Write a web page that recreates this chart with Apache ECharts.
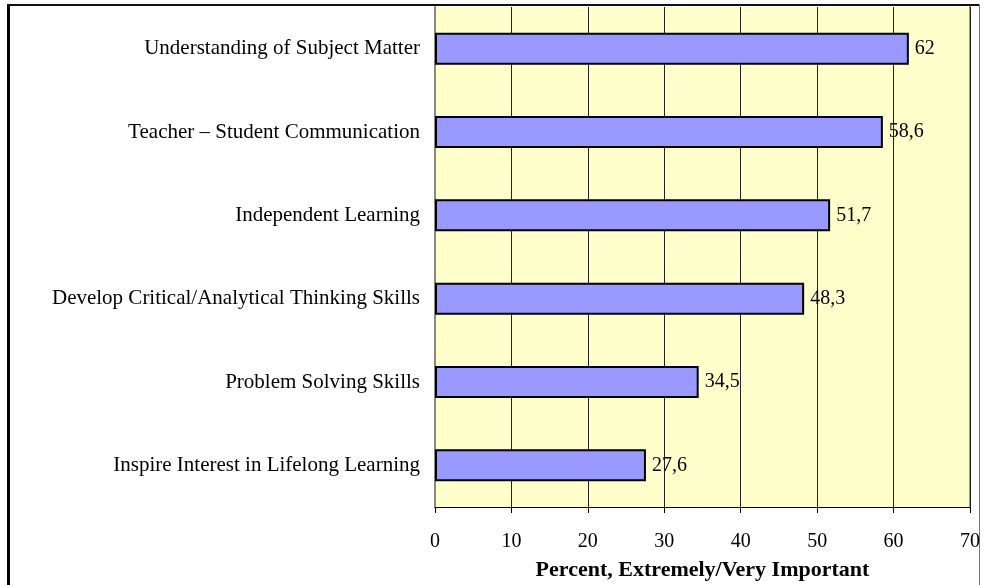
<!DOCTYPE html>
<html>
<head>
<meta charset="utf-8">
<script src="https://cdn.jsdelivr.net/npm/echarts@6/dist/echarts.min.js"></script>
<style>
  html, body { margin: 0; padding: 0; background: #fff; }
  #chart { width: 984px; height: 585px; }
</style>
</head>
<body>
<div id="chart"></div>
<script>
// categories listed bottom to top (y axis category order)
const categories = [
  "Inspire Interest in Lifelong Learning",
  "Problem Solving Skills",
  "Develop Critical/Analytical Thinking Skills",
  "Independent Learning",
  "Teacher \u2013 Student Communication",
  "Understanding of Subject Matter"
];
const values = [27.6, 34.5, 48.3, 51.7, 58.6, 62];
const xTicks = [0, 10, 20, 30, 40, 50, 60, 70];

const font = "'Liberation Serif', 'Times New Roman', serif";

const chart = echarts.init(document.getElementById("chart"));

const option = {
  animation: false,
  grid: {
    left: 435,
    right: 14,
    top: 7,
    bottom: 78,
    containLabel: false,
    outerBoundsMode: "none",
    show: true,
    backgroundColor: "#FFFFCC",
    borderWidth: 0
  },
  xAxis: {
    type: "value",
    min: xTicks[0],
    max: xTicks[xTicks.length - 1],
    interval: 10,
    name: "Percent, Extremely/Very Important",
    nameLocation: "middle",
    nameGap: 52,
    nameTextStyle: { fontFamily: font, fontSize: 22, fontWeight: "bold", color: "#000" },
    axisLine: { show: true, lineStyle: { color: "#000", width: 1 } },
    axisTick: { show: true, length: 6, lineStyle: { color: "#000" } },
    axisLabel: { fontFamily: font, fontSize: 20, color: "#000", margin: 25 },
    splitLine: { show: true, lineStyle: { color: "#222", width: 1 } }
  },
  yAxis: {
    type: "category",
    data: categories,
    axisLine: { show: true, lineStyle: { color: "#888", width: 2 } },
    axisTick: { show: false },
    axisLabel: { fontFamily: font, fontSize: 21, color: "#000", margin: 15 }
  },
  series: [{
    type: "bar",
    data: values,
    barWidth: 32,
    itemStyle: { color: "#9999FF", borderColor: "#000", borderWidth: 2 },
    label: {
      show: true,
      position: "right",
      distance: 6,
      fontFamily: font,
      fontSize: 20,
      color: "#000",
      formatter: p => String(p.value).replace(".", ",")
    }
  }],
  graphic: [
    { type: "rect", shape: { x: 7, y: 4, width: 3, height: 581 }, style: { fill: "#000" } },
    { type: "rect", shape: { x: 7, y: 4, width: 973, height: 2 }, style: { fill: "#111" } },
    { type: "rect", shape: { x: 979, y: 4, width: 1, height: 581 }, style: { fill: "#777" } },
    { type: "rect", shape: { x: 969, y: 6, width: 2, height: 501 }, style: { fill: "#999" } }
  ]
};

chart.setOption(option);
</script>
</body>
</html>
